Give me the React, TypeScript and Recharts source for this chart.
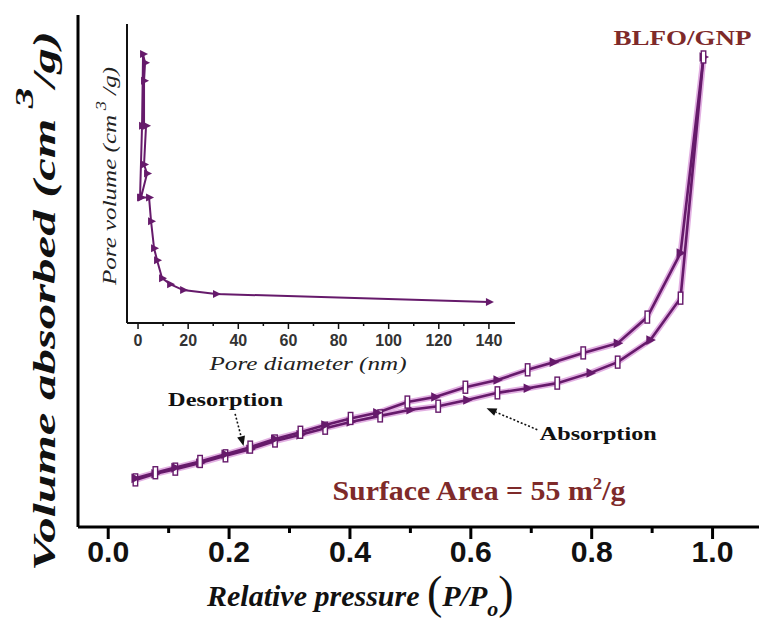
import React from "react";
import {
  LineChart,
  Line,
  XAxis,
  YAxis,
  ReferenceDot,
  ReferenceLine,
} from "recharts";

// ---------------------------------------------------------------
// N2 isotherm of BLFO/GNP (y is arbitrary units)
// ---------------------------------------------------------------
const pressureAds = [
  0.045, 0.078, 0.111, 0.152, 0.194, 0.235, 0.276, 0.318, 0.359, 0.401, 0.45,
  0.5, 0.546, 0.594, 0.644, 0.694, 0.743, 0.798, 0.843, 0.897, 0.947, 0.985,
];
const volumeAds = [
  9.2, 10.4, 11.3, 12.5, 13.9, 15.2, 16.8, 18.0, 19.3, 20.5, 21.7, 22.9, 23.6,
  24.8, 26.2, 27.1, 28.1, 30.1, 32.2, 36.5, 44.7, 91.8,
];

const pressureDes = [
  0.985, 0.947, 0.892, 0.843, 0.786, 0.737, 0.694, 0.644, 0.591, 0.541, 0.495,
  0.445, 0.401, 0.359, 0.318, 0.276, 0.235, 0.194, 0.152, 0.111, 0.078, 0.045,
];
const volumeDes = [
  91.8, 53.5, 41.0, 35.9, 34.0, 32.2, 30.7, 28.7, 27.3, 25.4, 24.4, 22.3, 21.2,
  19.9, 18.5, 17.2, 15.6, 14.2, 12.8, 11.6, 10.6, 9.5,
];

const pressureTicks = [0, 0.1, 0.2, 0.3, 0.4, 0.5, 0.6, 0.7, 0.8, 0.9, 1.0];

// inset: BJH pore size distribution
const poreDiameter = [
  0.8, 1.6, 2.0, 2.8, 2.4, 2.4, 3.2, 2.4, 3.6, 1.2, 4.4, 5.2, 6.4, 7.6, 9.6,
  12.8, 18.0, 31.1, 140,
];
const poreVolume = [
  0.42, 0.66, 0.9, 0.87, 0.81, 0.66, 0.66, 0.53, 0.5, 0.42, 0.42, 0.34, 0.25,
  0.21, 0.15, 0.13, 0.11, 0.097, 0.07,
];
const diameterTicks = [0, 10, 20, 30, 40, 50, 60, 70, 80, 90, 100, 110, 120, 130, 140];

const PURPLE = "#661a6b";
const HALO = "#e2b0e2";
const RED = "#7e2a2a";
const SERIF = "'Liberation Serif', 'Times New Roman', serif";
const SANS = "'Liberation Sans', Arial, sans-serif";

const adsData = pressureAds.map((p, i) => ({ p, v: volumeAds[i] }));
const desData = pressureDes.map((p, i) => ({ p, v: volumeDes[i] }));
const poreData = poreDiameter.map((d, i) => ({ d, v: poreVolume[i] }));

// alternating open bar / filled triangle markers, like the original
function makeMarker(size: number) {
  return (props: any) => {
    const { cx, cy, index } = props;
    if (cx == null || cy == null) return <g key={index} />;
    if (index % 2 === 0) {
      return (
        <rect
          key={index}
          x={cx - size * 0.28}
          y={cy - size * 0.75}
          width={size * 0.56}
          height={size * 1.5}
          fill="#fff"
          stroke={PURPLE}
          strokeWidth={1.4}
        />
      );
    }
    return (
      <polygon
        key={index}
        points={`${cx - size * 0.5},${cy - size * 0.6} ${cx + size * 0.7},${cy} ${cx - size * 0.5},${cy + size * 0.6}`}
        fill={PURPLE}
      />
    );
  };
}

const MainTick = (props: any) => {
  const { x, y, payload } = props;
  const v = payload.value as number;
  const major = Math.round(v * 10) % 2 === 0;
  return (
    <g>
      <line x1={x} y1={y} x2={x} y2={y + (major ? 12 : 6)} stroke="#000" strokeWidth={3} />
      {major && (
        <text
          x={x}
          y={y + 35}
          textAnchor="middle"
          fontFamily={SANS}
          fontWeight="bold"
          fontSize={30}
          fill="#111"
          textLength={42}
          lengthAdjust="spacingAndGlyphs"
        >
          {v.toFixed(1)}
        </text>
      )}
    </g>
  );
};

const InsetTick = (props: any) => {
  const { x, y, payload } = props;
  const v = payload.value as number;
  const major = v % 20 === 0;
  return (
    <g>
      <line x1={x} y1={y} x2={x} y2={y + (major ? 6 : 3)} stroke="#111" strokeWidth={1.5} />
      {major && (
        <text
          x={x}
          y={y + 23}
          textAnchor="middle"
          fontFamily={SANS}
          fontWeight="bold"
          fontSize={16}
          fill="#333"
        >
          {v}
        </text>
      )}
    </g>
  );
};

// dotted arrow for the Desorption / Absorption call-outs
const dottedArrow = (props: any) => {
  const { x1, y1, x2, y2 } = props;
  const a = Math.atan2(y2 - y1, x2 - x1);
  const L = 10;
  const W = 4;
  const bx = x2 - L * Math.cos(a);
  const by = y2 - L * Math.sin(a);
  const px = -Math.sin(a) * W;
  const py = Math.cos(a) * W;
  return (
    <g>
      <line x1={x1} y1={y1} x2={bx} y2={by} stroke="#111" strokeWidth={1.6} strokeDasharray="2 2" />
      <polygon points={`${x2},${y2} ${bx + px},${by + py} ${bx - px},${by - py}`} fill="#111" />
    </g>
  );
};

const textAt =
  (content: React.ReactNode, opts: { size: number; fill: string; len?: number; weight?: string }) =>
  (props: any) => (
    <text
      x={props.cx}
      y={props.cy}
      fontFamily={SERIF}
      fontWeight={opts.weight ?? "bold"}
      fontSize={opts.size}
      fill={opts.fill}
      textLength={opts.len}
      lengthAdjust="spacingAndGlyphs"
    >
      {content}
    </text>
  );

const MainYTitle = (props: any) => {
  const vb = props.viewBox;
  const cx = vb.x + 55;
  const cy = vb.y + vb.height / 2 + 30;
  return (
    <text
      x={cx}
      y={cy}
      transform={`rotate(-90 ${cx} ${cy})`}
      textAnchor="middle"
      fontFamily={SERIF}
      fontStyle="italic"
      fontWeight="bold"
      fontSize={32}
      fill="#111"
      textLength={540}
      lengthAdjust="spacingAndGlyphs"
    >
      Volume absorbed (cm
      <tspan dy={-22} fontSize={26}>
        {" "}3
      </tspan>
      <tspan dy={22}>/g)</tspan>
    </text>
  );
};

const MainXTitle = (props: any) => {
  const vb = props.viewBox;
  const x = vb.x + 129;
  const y = vb.y + 79;
  return (
    <text x={x} y={y} fontFamily={SERIF} fill="#111">
      <tspan fontStyle="italic" fontWeight="bold" fontSize={30}>
        Relative pressure{" "}
      </tspan>
      <tspan fontSize={46} dy={2}>(</tspan>
      <tspan fontStyle="italic" fontWeight="bold" fontSize={30} dy={-2}>
        P/P
      </tspan>
      <tspan fontStyle="italic" fontWeight="bold" fontSize={22} dy={10}>
        o
      </tspan>
      <tspan fontSize={46} dy={-8}>)</tspan>
    </text>
  );
};

const InsetYTitle = (props: any) => {
  const vb = props.viewBox;
  const cx = vb.x + 36;
  const cy = vb.y + 152;
  return (
    <text
      x={cx}
      y={cy}
      transform={`rotate(-90 ${cx} ${cy})`}
      textAnchor="middle"
      fontFamily={SERIF}
      fontStyle="italic"
      fontSize={19}
      fill="#222"
      textLength={218}
      lengthAdjust="spacingAndGlyphs"
    >
      Pore volume (cm
      <tspan dy={-10} fontSize={14}>
        {" "}3
      </tspan>
      <tspan dy={10}> /g)</tspan>
    </text>
  );
};

const InsetXTitle = (props: any) => {
  const vb = props.viewBox;
  return (
    <text
      x={vb.x + vb.width / 2 - 13}
      y={vb.y + 47}
      textAnchor="middle"
      fontFamily={SERIF}
      fontStyle="italic"
      fontSize={18}
      fill="#222"
      textLength={197}
      lengthAdjust="spacingAndGlyphs"
    >
      Pore diameter (nm)
    </text>
  );
};

function Isotherm() {
  return (
    <LineChart width={773} height={623} margin={{ top: 15, right: 0, bottom: 0, left: 0 }}>
      <XAxis
        type="number"
        dataKey="p"
        domain={[-0.05, 1.1]}
        ticks={pressureTicks}
        interval={0}
        allowDataOverflow
        height={96}
        tickSize={0}
        tickMargin={0}
        tickLine={false}
        tick={<MainTick />}
        axisLine={{ stroke: "#000", strokeWidth: 3 }}
        label={{ content: <MainXTitle /> }}
      />
      <XAxis
        xAxisId="top"
        orientation="top"
        type="number"
        domain={[-0.05, 1.1]}
        height={0}
        tick={false}
        tickLine={false}
        axisLine={{ stroke: "#000", strokeWidth: 3 }}
      />
      <YAxis
        type="number"
        domain={[0, 100]}
        width={78}
        tick={false}
        tickLine={false}
        axisLine={{ stroke: "#000", strokeWidth: 3 }}
        label={{ content: <MainYTitle /> }}
      />
      {/* soft pink halo under the purple traces */}
      <Line data={adsData} dataKey="v" stroke={HALO} strokeWidth={6} dot={false} isAnimationActive={false} />
      <Line data={desData} dataKey="v" stroke={HALO} strokeWidth={6} dot={false} isAnimationActive={false} />
      <Line
        data={adsData}
        dataKey="v"
        type="linear"
        stroke={PURPLE}
        strokeWidth={2.6}
        dot={makeMarker(8)}
        isAnimationActive={false}
      />
      <Line
        data={desData}
        dataKey="v"
        type="linear"
        stroke={PURPLE}
        strokeWidth={2.6}
        dot={makeMarker(8)}
        isAnimationActive={false}
      />
      <ReferenceLine
        segment={[
          { x: 0.21, y: 22.1 },
          { x: 0.224, y: 15.8 },
        ]}
        shape={dottedArrow}
      />
      <ReferenceLine
        segment={[
          { x: 0.71, y: 19.0 },
          { x: 0.626, y: 23.2 },
        ]}
        shape={dottedArrow}
      />
      <ReferenceDot x={0.099} y={23.6} shape={textAt("Desorption", { size: 19, fill: "#111", len: 115 })} />
      <ReferenceDot x={0.714} y={17.0} shape={textAt("Absorption", { size: 19, fill: "#111", len: 117 })} />
      <ReferenceDot x={0.836} y={94.2} shape={textAt("BLFO/GNP", { size: 21, fill: RED, len: 138 })} />
      <ReferenceDot
        x={0.371}
        y={5.3}
        shape={textAt(
          <>
            Surface Area = 55 m
            <tspan dy={-11} fontSize={17}>
              2
            </tspan>
            <tspan dy={11}>/g</tspan>
          </>,
          { size: 27, fill: RED, len: 293 }
        )}
      />
    </LineChart>
  );
}

function PoreInset() {
  return (
    <LineChart width={445} height={380} margin={{ top: 24, right: 10, bottom: 0, left: 0 }}>
      <XAxis
        type="number"
        dataKey="d"
        domain={[-4.4, 150.4]}
        ticks={diameterTicks}
        interval={0}
        height={57}
        tickSize={0}
        tickMargin={0}
        tickLine={false}
        tick={<InsetTick />}
        axisLine={{ stroke: "#111", strokeWidth: 2 }}
        label={{ content: <InsetXTitle /> }}
      />
      <XAxis
        xAxisId="top"
        orientation="top"
        type="number"
        domain={[-4.4, 150.4]}
        height={0}
        tick={false}
        tickLine={false}
        axisLine={{ stroke: "#111", strokeWidth: 2 }}
      />
      <YAxis
        type="number"
        domain={[0, 1]}
        width={47}
        tick={false}
        tickLine={false}
        axisLine={{ stroke: "#111", strokeWidth: 2 }}
        label={{ content: <InsetYTitle /> }}
      />
      <YAxis
        yAxisId="right"
        orientation="right"
        type="number"
        domain={[0, 1]}
        width={0}
        tick={false}
        tickLine={false}
        axisLine={{ stroke: "#111", strokeWidth: 2 }}
      />
      <Line
        data={poreData}
        dataKey="v"
        type="linear"
        stroke={PURPLE}
        strokeWidth={2}
        dot={(props: any) => {
          const { cx, cy, index } = props;
          return (
            <polygon
              key={index}
              points={`${cx - 3},${cy - 4} ${cx + 5},${cy} ${cx - 3},${cy + 4}`}
              fill={PURPLE}
            />
          );
        }}
        isAnimationActive={false}
      />
    </LineChart>
  );
}

export default function App() {
  return (
    <div
      style={{
        position: "absolute",
        left: 0,
        top: 0,
        width: 759,
        height: 623,
        overflow: "hidden",
        background: "#fff",
      }}
    >
      <div style={{ position: "absolute", left: 0, top: 0 }}>
        <Isotherm />
      </div>
      <div style={{ position: "absolute", left: 80, top: 0 }}>
        <PoreInset />
      </div>
    </div>
  );
}
